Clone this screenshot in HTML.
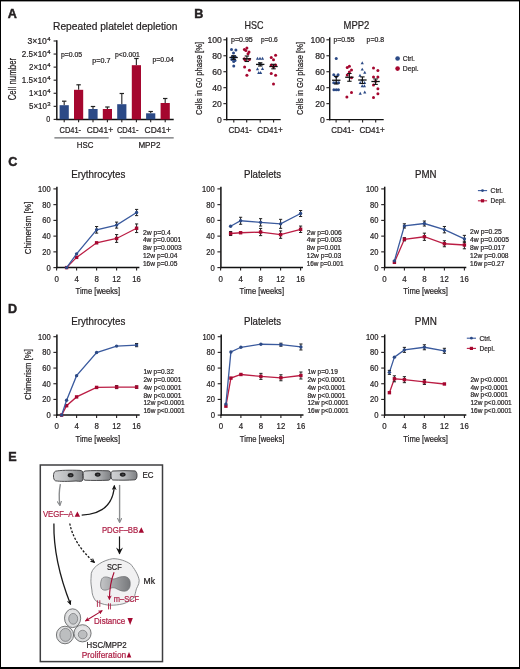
<!DOCTYPE html>
<html><head><meta charset="utf-8"><style>
html,body{margin:0;padding:0;background:#fff;}
#fig{position:relative;width:518px;height:666px;border:1px solid #000;border-bottom-width:2px;overflow:hidden;}
svg{position:absolute;left:-1px;top:-1px;}
text{font-family:"Liberation Sans", sans-serif;}
svg text{stroke-width:0.22;}
svg text[font-weight=bold]{stroke-width:0.45;}
svg{filter:blur(0.35px);}
</style></head><body>
<div id="fig"><svg width="520" height="669" viewBox="0 0 520 669" font-family='"Liberation Sans", sans-serif'>
<rect x="0" y="1" width="520" height="1" fill="#9a9a9a"/>
<text x="7.80" y="17.70" font-size="12.6" font-weight="bold" fill="#231f20" stroke="#231f20">A</text>
<text x="194.30" y="17.80" font-size="12.6" font-weight="bold" fill="#231f20" stroke="#231f20">B</text>
<text x="8.20" y="166.00" font-size="12.6" font-weight="bold" fill="#231f20" stroke="#231f20">C</text>
<text x="8.10" y="313.00" font-size="12.6" font-weight="bold" fill="#231f20" stroke="#231f20">D</text>
<text x="8.30" y="460.80" font-size="12.6" font-weight="bold" fill="#231f20" stroke="#231f20">E</text>
<text x="53.00" y="29.90" font-size="10.6" textLength="124.5" lengthAdjust="spacingAndGlyphs" fill="#231f20" stroke="#231f20">Repeated platelet depletion</text>
<line x1="56.80" y1="40.20" x2="56.80" y2="120.10" stroke="#111" stroke-width="1.45"/>
<line x1="56.10" y1="119.40" x2="173.70" y2="119.40" stroke="#111" stroke-width="1.45"/>
<line x1="53.60" y1="119.40" x2="56.80" y2="119.40" stroke="#231f20" stroke-width="1.1"/>
<text x="50.20" y="122.40" font-size="8.6" text-anchor="end" textLength="4.0" lengthAdjust="spacingAndGlyphs" fill="#231f20" stroke="#231f20">0</text>
<line x1="53.60" y1="106.33" x2="56.80" y2="106.33" stroke="#231f20" stroke-width="1.1"/>
<text x="46.80" y="109.33" font-size="8.6" text-anchor="end" textLength="17.8" lengthAdjust="spacingAndGlyphs" fill="#231f20" stroke="#231f20">5×10</text>
<text x="47.20" y="106.03" font-size="5.6" textLength="3.3" lengthAdjust="spacingAndGlyphs" fill="#231f20" stroke="#231f20">3</text>
<line x1="53.60" y1="93.26" x2="56.80" y2="93.26" stroke="#231f20" stroke-width="1.1"/>
<text x="46.80" y="96.26" font-size="8.6" text-anchor="end" textLength="17.8" lengthAdjust="spacingAndGlyphs" fill="#231f20" stroke="#231f20">1×10</text>
<text x="47.20" y="92.96" font-size="5.6" textLength="3.3" lengthAdjust="spacingAndGlyphs" fill="#231f20" stroke="#231f20">4</text>
<line x1="53.60" y1="80.19" x2="56.80" y2="80.19" stroke="#231f20" stroke-width="1.1"/>
<text x="46.80" y="83.19" font-size="8.6" text-anchor="end" textLength="25.0" lengthAdjust="spacingAndGlyphs" fill="#231f20" stroke="#231f20">1.5×10</text>
<text x="47.20" y="79.89" font-size="5.6" textLength="3.3" lengthAdjust="spacingAndGlyphs" fill="#231f20" stroke="#231f20">4</text>
<line x1="53.60" y1="67.12" x2="56.80" y2="67.12" stroke="#231f20" stroke-width="1.1"/>
<text x="46.80" y="70.12" font-size="8.6" text-anchor="end" textLength="17.8" lengthAdjust="spacingAndGlyphs" fill="#231f20" stroke="#231f20">2×10</text>
<text x="47.20" y="66.82" font-size="5.6" textLength="3.3" lengthAdjust="spacingAndGlyphs" fill="#231f20" stroke="#231f20">4</text>
<line x1="53.60" y1="54.05" x2="56.80" y2="54.05" stroke="#231f20" stroke-width="1.1"/>
<text x="46.80" y="57.05" font-size="8.6" text-anchor="end" textLength="25.0" lengthAdjust="spacingAndGlyphs" fill="#231f20" stroke="#231f20">2.5×10</text>
<text x="47.20" y="53.75" font-size="5.6" textLength="3.3" lengthAdjust="spacingAndGlyphs" fill="#231f20" stroke="#231f20">4</text>
<line x1="53.60" y1="40.98" x2="56.80" y2="40.98" stroke="#231f20" stroke-width="1.1"/>
<text x="46.80" y="43.98" font-size="8.6" text-anchor="end" textLength="19.4" lengthAdjust="spacingAndGlyphs" fill="#231f20" stroke="#231f20">3×10</text>
<text x="47.20" y="40.68" font-size="5.6" textLength="3.3" lengthAdjust="spacingAndGlyphs" fill="#231f20" stroke="#231f20">4</text>
<text x="0.00" y="0.00" font-size="10.9" text-anchor="middle" textLength="42.5" lengthAdjust="spacingAndGlyphs" fill="#231f20" stroke="#231f20" transform="translate(16.0,79.1) rotate(-90)">Cell number</text>
<line x1="64.20" y1="101.20" x2="64.20" y2="105.20" stroke="#333" stroke-width="1.2"/>
<line x1="62.00" y1="101.20" x2="66.40" y2="101.20" stroke="#222" stroke-width="1.2"/>
<rect x="59.60" y="105.20" width="9.20" height="14.20" fill="#2c4a86"/>
<line x1="64.20" y1="119.40" x2="64.20" y2="122.20" stroke="#231f20" stroke-width="1.1"/>
<line x1="78.60" y1="84.80" x2="78.60" y2="89.80" stroke="#333" stroke-width="1.2"/>
<line x1="76.40" y1="84.80" x2="80.80" y2="84.80" stroke="#222" stroke-width="1.2"/>
<rect x="74.00" y="89.80" width="9.20" height="29.60" fill="#a5072f"/>
<line x1="78.60" y1="119.40" x2="78.60" y2="122.20" stroke="#231f20" stroke-width="1.1"/>
<line x1="93.00" y1="106.50" x2="93.00" y2="109.00" stroke="#333" stroke-width="1.2"/>
<line x1="90.80" y1="106.50" x2="95.20" y2="106.50" stroke="#222" stroke-width="1.2"/>
<rect x="88.40" y="109.00" width="9.20" height="10.40" fill="#2c4a86"/>
<line x1="93.00" y1="119.40" x2="93.00" y2="122.20" stroke="#231f20" stroke-width="1.1"/>
<line x1="107.40" y1="107.00" x2="107.40" y2="109.00" stroke="#333" stroke-width="1.2"/>
<line x1="105.20" y1="107.00" x2="109.60" y2="107.00" stroke="#222" stroke-width="1.2"/>
<rect x="102.80" y="109.00" width="9.20" height="10.40" fill="#a5072f"/>
<line x1="107.40" y1="119.40" x2="107.40" y2="122.20" stroke="#231f20" stroke-width="1.1"/>
<line x1="121.80" y1="93.50" x2="121.80" y2="104.20" stroke="#333" stroke-width="1.2"/>
<line x1="119.60" y1="93.50" x2="124.00" y2="93.50" stroke="#222" stroke-width="1.2"/>
<rect x="117.20" y="104.20" width="9.20" height="15.20" fill="#2c4a86"/>
<line x1="121.80" y1="119.40" x2="121.80" y2="122.20" stroke="#231f20" stroke-width="1.1"/>
<line x1="136.40" y1="58.50" x2="136.40" y2="65.20" stroke="#333" stroke-width="1.2"/>
<line x1="134.20" y1="58.50" x2="138.60" y2="58.50" stroke="#222" stroke-width="1.2"/>
<rect x="131.80" y="65.20" width="9.20" height="54.20" fill="#a5072f"/>
<line x1="136.40" y1="119.40" x2="136.40" y2="122.20" stroke="#231f20" stroke-width="1.1"/>
<line x1="150.70" y1="111.50" x2="150.70" y2="113.30" stroke="#333" stroke-width="1.2"/>
<line x1="148.50" y1="111.50" x2="152.90" y2="111.50" stroke="#222" stroke-width="1.2"/>
<rect x="146.10" y="113.30" width="9.20" height="6.10" fill="#2c4a86"/>
<line x1="150.70" y1="119.40" x2="150.70" y2="122.20" stroke="#231f20" stroke-width="1.1"/>
<line x1="165.20" y1="98.50" x2="165.20" y2="103.00" stroke="#333" stroke-width="1.2"/>
<line x1="163.00" y1="98.50" x2="167.40" y2="98.50" stroke="#222" stroke-width="1.2"/>
<rect x="160.60" y="103.00" width="9.20" height="16.40" fill="#a5072f"/>
<line x1="165.20" y1="119.40" x2="165.20" y2="122.20" stroke="#231f20" stroke-width="1.1"/>
<text x="59.50" y="133.00" font-size="8.6" textLength="21.6" lengthAdjust="spacingAndGlyphs" fill="#231f20" stroke="#231f20">CD41-</text>
<text x="86.70" y="133.00" font-size="8.6" textLength="26.4" lengthAdjust="spacingAndGlyphs" fill="#231f20" stroke="#231f20">CD41+</text>
<text x="116.90" y="133.00" font-size="8.6" textLength="21.6" lengthAdjust="spacingAndGlyphs" fill="#231f20" stroke="#231f20">CD41-</text>
<text x="144.60" y="133.00" font-size="8.6" textLength="26.4" lengthAdjust="spacingAndGlyphs" fill="#231f20" stroke="#231f20">CD41+</text>
<line x1="54.40" y1="137.90" x2="108.70" y2="137.90" stroke="#6d6e71" stroke-width="1.3"/>
<line x1="119.80" y1="137.90" x2="173.70" y2="137.90" stroke="#6d6e71" stroke-width="1.3"/>
<text x="76.80" y="147.60" font-size="8.6" textLength="16.6" lengthAdjust="spacingAndGlyphs" fill="#231f20" stroke="#231f20">HSC</text>
<text x="138.40" y="147.60" font-size="8.6" textLength="22.0" lengthAdjust="spacingAndGlyphs" fill="#231f20" stroke="#231f20">MPP2</text>
<text x="60.90" y="56.90" font-size="7.2" textLength="21.3" lengthAdjust="spacingAndGlyphs" fill="#231f20" stroke="#231f20">p=0.05</text>
<text x="92.30" y="62.70" font-size="7.2" textLength="18.1" lengthAdjust="spacingAndGlyphs" fill="#231f20" stroke="#231f20">p=0.7</text>
<text x="115.00" y="56.90" font-size="7.2" textLength="24.8" lengthAdjust="spacingAndGlyphs" fill="#231f20" stroke="#231f20">p&lt;0.001</text>
<text x="152.50" y="62.40" font-size="7.2" textLength="21.3" lengthAdjust="spacingAndGlyphs" fill="#231f20" stroke="#231f20">p=0.04</text>
<text x="244.60" y="29.00" font-size="10.5" textLength="19" lengthAdjust="spacingAndGlyphs" fill="#231f20" stroke="#231f20">HSC</text>
<line x1="226.70" y1="37.40" x2="226.70" y2="120.30" stroke="#111" stroke-width="1.45"/>
<line x1="226.00" y1="119.60" x2="280.70" y2="119.60" stroke="#111" stroke-width="1.45"/>
<line x1="223.40" y1="119.60" x2="226.70" y2="119.60" stroke="#231f20" stroke-width="1.1"/>
<text x="221.80" y="122.60" font-size="8.6" text-anchor="end" fill="#231f20" stroke="#231f20">0</text>
<line x1="223.40" y1="103.64" x2="226.70" y2="103.64" stroke="#231f20" stroke-width="1.1"/>
<text x="221.80" y="106.64" font-size="8.6" text-anchor="end" fill="#231f20" stroke="#231f20">20</text>
<line x1="223.40" y1="87.68" x2="226.70" y2="87.68" stroke="#231f20" stroke-width="1.1"/>
<text x="221.80" y="90.68" font-size="8.6" text-anchor="end" fill="#231f20" stroke="#231f20">40</text>
<line x1="223.40" y1="71.72" x2="226.70" y2="71.72" stroke="#231f20" stroke-width="1.1"/>
<text x="221.80" y="74.72" font-size="8.6" text-anchor="end" fill="#231f20" stroke="#231f20">60</text>
<line x1="223.40" y1="55.76" x2="226.70" y2="55.76" stroke="#231f20" stroke-width="1.1"/>
<text x="221.80" y="58.76" font-size="8.6" text-anchor="end" fill="#231f20" stroke="#231f20">80</text>
<line x1="223.40" y1="39.80" x2="226.70" y2="39.80" stroke="#231f20" stroke-width="1.1"/>
<text x="221.80" y="42.80" font-size="8.6" text-anchor="end" fill="#231f20" stroke="#231f20">100</text>
<line x1="233.80" y1="119.60" x2="233.80" y2="122.60" stroke="#231f20" stroke-width="1.1"/>
<line x1="246.70" y1="119.60" x2="246.70" y2="122.60" stroke="#231f20" stroke-width="1.1"/>
<line x1="260.20" y1="119.60" x2="260.20" y2="122.60" stroke="#231f20" stroke-width="1.1"/>
<line x1="273.60" y1="119.60" x2="273.60" y2="122.60" stroke="#231f20" stroke-width="1.1"/>
<text x="228.50" y="133.40" font-size="8.5" textLength="23.3" lengthAdjust="spacingAndGlyphs" fill="#231f20" stroke="#231f20">CD41-</text>
<text x="257.30" y="133.40" font-size="8.5" textLength="25.4" lengthAdjust="spacingAndGlyphs" fill="#231f20" stroke="#231f20">CD41+</text>
<text x="0.00" y="0.00" font-size="8.6" text-anchor="middle" textLength="73" lengthAdjust="spacingAndGlyphs" fill="#231f20" stroke="#231f20" transform="translate(201.5,78.5) rotate(-90)">Cells in G0 phase [%]</text>
<text x="231.00" y="42.00" font-size="7" textLength="21.8" lengthAdjust="spacingAndGlyphs" fill="#231f20" stroke="#231f20">p=0.95</text>
<text x="261.00" y="42.00" font-size="7" textLength="16.8" lengthAdjust="spacingAndGlyphs" fill="#231f20" stroke="#231f20">p=0.6</text>
<circle cx="231.50" cy="49.40" r="1.5" fill="#2c4a86"/>
<circle cx="235.90" cy="50.00" r="1.5" fill="#2c4a86"/>
<circle cx="233.50" cy="53.10" r="1.5" fill="#2c4a86"/>
<circle cx="232.30" cy="56.50" r="1.5" fill="#2c4a86"/>
<circle cx="235.20" cy="56.80" r="1.5" fill="#2c4a86"/>
<circle cx="233.70" cy="58.30" r="1.5" fill="#2c4a86"/>
<circle cx="231.80" cy="59.60" r="1.5" fill="#2c4a86"/>
<circle cx="235.00" cy="60.60" r="1.5" fill="#2c4a86"/>
<circle cx="233.70" cy="61.50" r="1.5" fill="#2c4a86"/>
<circle cx="233.75" cy="66.00" r="1.5" fill="#2c4a86"/>
<line x1="229.40" y1="57.50" x2="237.80" y2="57.50" stroke="#111" stroke-width="1.3"/>
<line x1="233.60" y1="55.80" x2="233.60" y2="59.40" stroke="#111" stroke-width="1.1"/>
<line x1="231.40" y1="55.80" x2="235.80" y2="55.80" stroke="#111" stroke-width="1.1"/>
<line x1="231.40" y1="59.40" x2="235.80" y2="59.40" stroke="#111" stroke-width="1.1"/>
<circle cx="244.40" cy="49.60" r="1.5" fill="#a5072f"/>
<circle cx="246.90" cy="48.10" r="1.5" fill="#a5072f"/>
<circle cx="245.80" cy="50.60" r="1.5" fill="#a5072f"/>
<circle cx="249.00" cy="51.90" r="1.5" fill="#a5072f"/>
<circle cx="248.00" cy="53.75" r="1.5" fill="#a5072f"/>
<circle cx="244.40" cy="58.80" r="1.5" fill="#a5072f"/>
<circle cx="249.40" cy="59.40" r="1.5" fill="#a5072f"/>
<circle cx="245.10" cy="60.00" r="1.5" fill="#a5072f"/>
<circle cx="244.60" cy="66.90" r="1.5" fill="#a5072f"/>
<circle cx="249.40" cy="70.25" r="1.5" fill="#a5072f"/>
<circle cx="246.90" cy="75.25" r="1.5" fill="#a5072f"/>
<line x1="242.70" y1="58.75" x2="251.10" y2="58.75" stroke="#111" stroke-width="1.3"/>
<line x1="246.90" y1="56.00" x2="246.90" y2="61.50" stroke="#111" stroke-width="1.1"/>
<line x1="244.70" y1="56.00" x2="249.10" y2="56.00" stroke="#111" stroke-width="1.1"/>
<line x1="244.70" y1="61.50" x2="249.10" y2="61.50" stroke="#111" stroke-width="1.1"/>
<path d="M257.50,56.77 L259.10,59.65 L255.90,59.65 Z" fill="#2c4a86"/>
<path d="M260.00,56.77 L261.60,59.65 L258.40,59.65 Z" fill="#2c4a86"/>
<path d="M262.50,56.77 L264.10,59.65 L260.90,59.65 Z" fill="#2c4a86"/>
<path d="M259.40,62.07 L261.00,64.95 L257.80,64.95 Z" fill="#2c4a86"/>
<path d="M261.20,62.67 L262.80,65.55 L259.60,65.55 Z" fill="#2c4a86"/>
<path d="M257.50,67.27 L259.10,70.15 L255.90,70.15 Z" fill="#2c4a86"/>
<path d="M262.50,67.07 L264.10,69.95 L260.90,69.95 Z" fill="#2c4a86"/>
<path d="M258.75,71.02 L260.35,73.90 L257.15,73.90 Z" fill="#2c4a86"/>
<path d="M260.60,71.02 L262.20,73.90 L259.00,73.90 Z" fill="#2c4a86"/>
<line x1="256.00" y1="64.40" x2="264.40" y2="64.40" stroke="#111" stroke-width="1.3"/>
<line x1="260.20" y1="62.80" x2="260.20" y2="66.00" stroke="#111" stroke-width="1.1"/>
<line x1="258.00" y1="62.80" x2="262.40" y2="62.80" stroke="#111" stroke-width="1.1"/>
<line x1="258.00" y1="66.00" x2="262.40" y2="66.00" stroke="#111" stroke-width="1.1"/>
<circle cx="271.25" cy="57.50" r="1.5" fill="#a5072f"/>
<circle cx="275.60" cy="55.25" r="1.5" fill="#a5072f"/>
<circle cx="273.50" cy="59.75" r="1.5" fill="#a5072f"/>
<circle cx="271.25" cy="65.00" r="1.5" fill="#a5072f"/>
<circle cx="275.60" cy="65.00" r="1.5" fill="#a5072f"/>
<circle cx="273.50" cy="66.70" r="1.5" fill="#a5072f"/>
<circle cx="271.25" cy="73.50" r="1.5" fill="#a5072f"/>
<circle cx="275.60" cy="75.25" r="1.5" fill="#a5072f"/>
<circle cx="273.50" cy="84.00" r="1.5" fill="#a5072f"/>
<line x1="269.30" y1="66.50" x2="277.70" y2="66.50" stroke="#111" stroke-width="1.3"/>
<line x1="273.50" y1="64.30" x2="273.50" y2="68.80" stroke="#111" stroke-width="1.1"/>
<line x1="271.30" y1="64.30" x2="275.70" y2="64.30" stroke="#111" stroke-width="1.1"/>
<line x1="271.30" y1="68.80" x2="275.70" y2="68.80" stroke="#111" stroke-width="1.1"/>
<text x="343.50" y="29.00" font-size="10.5" textLength="25.8" lengthAdjust="spacingAndGlyphs" fill="#231f20" stroke="#231f20">MPP2</text>
<line x1="329.70" y1="37.40" x2="329.70" y2="120.30" stroke="#111" stroke-width="1.45"/>
<line x1="329.00" y1="119.60" x2="383.70" y2="119.60" stroke="#111" stroke-width="1.45"/>
<line x1="326.40" y1="119.60" x2="329.70" y2="119.60" stroke="#231f20" stroke-width="1.1"/>
<text x="324.80" y="122.60" font-size="8.6" text-anchor="end" fill="#231f20" stroke="#231f20">0</text>
<line x1="326.40" y1="103.64" x2="329.70" y2="103.64" stroke="#231f20" stroke-width="1.1"/>
<text x="324.80" y="106.64" font-size="8.6" text-anchor="end" fill="#231f20" stroke="#231f20">20</text>
<line x1="326.40" y1="87.68" x2="329.70" y2="87.68" stroke="#231f20" stroke-width="1.1"/>
<text x="324.80" y="90.68" font-size="8.6" text-anchor="end" fill="#231f20" stroke="#231f20">40</text>
<line x1="326.40" y1="71.72" x2="329.70" y2="71.72" stroke="#231f20" stroke-width="1.1"/>
<text x="324.80" y="74.72" font-size="8.6" text-anchor="end" fill="#231f20" stroke="#231f20">60</text>
<line x1="326.40" y1="55.76" x2="329.70" y2="55.76" stroke="#231f20" stroke-width="1.1"/>
<text x="324.80" y="58.76" font-size="8.6" text-anchor="end" fill="#231f20" stroke="#231f20">80</text>
<line x1="326.40" y1="39.80" x2="329.70" y2="39.80" stroke="#231f20" stroke-width="1.1"/>
<text x="324.80" y="42.80" font-size="8.6" text-anchor="end" fill="#231f20" stroke="#231f20">100</text>
<line x1="336.10" y1="119.60" x2="336.10" y2="122.60" stroke="#231f20" stroke-width="1.1"/>
<line x1="349.20" y1="119.60" x2="349.20" y2="122.60" stroke="#231f20" stroke-width="1.1"/>
<line x1="362.60" y1="119.60" x2="362.60" y2="122.60" stroke="#231f20" stroke-width="1.1"/>
<line x1="375.70" y1="119.60" x2="375.70" y2="122.60" stroke="#231f20" stroke-width="1.1"/>
<text x="331.30" y="133.40" font-size="8.5" textLength="22.8" lengthAdjust="spacingAndGlyphs" fill="#231f20" stroke="#231f20">CD41-</text>
<text x="359.40" y="133.40" font-size="8.5" textLength="25.4" lengthAdjust="spacingAndGlyphs" fill="#231f20" stroke="#231f20">CD41+</text>
<text x="0.00" y="0.00" font-size="8.6" text-anchor="middle" textLength="73" lengthAdjust="spacingAndGlyphs" fill="#231f20" stroke="#231f20" transform="translate(303.1,78.5) rotate(-90)">Cells in G0 phase [%]</text>
<text x="333.40" y="42.00" font-size="7" textLength="21.1" lengthAdjust="spacingAndGlyphs" fill="#231f20" stroke="#231f20">p=0.55</text>
<text x="366.60" y="42.00" font-size="7" textLength="17.5" lengthAdjust="spacingAndGlyphs" fill="#231f20" stroke="#231f20">p=0.8</text>
<circle cx="336.25" cy="58.40" r="1.5" fill="#2c4a86"/>
<circle cx="333.75" cy="74.75" r="1.5" fill="#2c4a86"/>
<circle cx="338.10" cy="74.75" r="1.5" fill="#2c4a86"/>
<circle cx="336.20" cy="76.80" r="1.5" fill="#2c4a86"/>
<circle cx="333.75" cy="82.75" r="1.5" fill="#2c4a86"/>
<circle cx="336.25" cy="82.75" r="1.5" fill="#2c4a86"/>
<circle cx="338.60" cy="82.75" r="1.5" fill="#2c4a86"/>
<circle cx="333.90" cy="89.75" r="1.5" fill="#2c4a86"/>
<circle cx="336.25" cy="89.75" r="1.5" fill="#2c4a86"/>
<circle cx="338.40" cy="89.75" r="1.5" fill="#2c4a86"/>
<line x1="332.05" y1="80.25" x2="340.45" y2="80.25" stroke="#111" stroke-width="1.3"/>
<line x1="336.25" y1="76.50" x2="336.25" y2="84.00" stroke="#111" stroke-width="1.1"/>
<line x1="334.05" y1="76.50" x2="338.45" y2="76.50" stroke="#111" stroke-width="1.1"/>
<line x1="334.05" y1="84.00" x2="338.45" y2="84.00" stroke="#111" stroke-width="1.1"/>
<circle cx="347.25" cy="67.50" r="1.5" fill="#a5072f"/>
<circle cx="349.40" cy="66.25" r="1.5" fill="#a5072f"/>
<circle cx="351.50" cy="70.00" r="1.5" fill="#a5072f"/>
<circle cx="349.40" cy="71.90" r="1.5" fill="#a5072f"/>
<circle cx="347.25" cy="75.00" r="1.5" fill="#a5072f"/>
<circle cx="351.50" cy="77.75" r="1.5" fill="#a5072f"/>
<circle cx="351.50" cy="92.50" r="1.5" fill="#a5072f"/>
<circle cx="346.90" cy="96.90" r="1.5" fill="#a5072f"/>
<line x1="345.20" y1="77.25" x2="353.60" y2="77.25" stroke="#111" stroke-width="1.3"/>
<line x1="349.40" y1="73.50" x2="349.40" y2="81.25" stroke="#111" stroke-width="1.1"/>
<line x1="347.20" y1="73.50" x2="351.60" y2="73.50" stroke="#111" stroke-width="1.1"/>
<line x1="347.20" y1="81.25" x2="351.60" y2="81.25" stroke="#111" stroke-width="1.1"/>
<path d="M362.25,61.37 L363.85,64.25 L360.65,64.25 Z" fill="#2c4a86"/>
<path d="M362.25,67.67 L363.85,70.55 L360.65,70.55 Z" fill="#2c4a86"/>
<path d="M364.75,70.77 L366.35,73.65 L363.15,73.65 Z" fill="#2c4a86"/>
<path d="M360.00,73.87 L361.60,76.75 L358.40,76.75 Z" fill="#2c4a86"/>
<path d="M362.25,78.27 L363.85,81.15 L360.65,81.15 Z" fill="#2c4a86"/>
<path d="M360.25,81.02 L361.85,83.90 L358.65,83.90 Z" fill="#2c4a86"/>
<path d="M364.60,81.02 L366.20,83.90 L363.00,83.90 Z" fill="#2c4a86"/>
<path d="M362.20,84.27 L363.80,87.15 L360.60,87.15 Z" fill="#2c4a86"/>
<path d="M364.40,84.27 L366.00,87.15 L362.80,87.15 Z" fill="#2c4a86"/>
<path d="M360.25,91.77 L361.85,94.65 L358.65,94.65 Z" fill="#2c4a86"/>
<path d="M364.75,90.52 L366.35,93.40 L363.15,93.40 Z" fill="#2c4a86"/>
<line x1="358.20" y1="80.00" x2="366.60" y2="80.00" stroke="#111" stroke-width="1.3"/>
<line x1="362.40" y1="76.90" x2="362.40" y2="83.50" stroke="#111" stroke-width="1.1"/>
<line x1="360.20" y1="76.90" x2="364.60" y2="76.90" stroke="#111" stroke-width="1.1"/>
<line x1="360.20" y1="83.50" x2="364.60" y2="83.50" stroke="#111" stroke-width="1.1"/>
<circle cx="373.50" cy="68.10" r="1.5" fill="#a5072f"/>
<circle cx="377.90" cy="70.60" r="1.5" fill="#a5072f"/>
<circle cx="373.50" cy="77.00" r="1.5" fill="#a5072f"/>
<circle cx="377.90" cy="77.00" r="1.5" fill="#a5072f"/>
<circle cx="375.60" cy="81.20" r="1.5" fill="#a5072f"/>
<circle cx="373.50" cy="85.00" r="1.5" fill="#a5072f"/>
<circle cx="377.90" cy="88.75" r="1.5" fill="#a5072f"/>
<circle cx="377.90" cy="93.75" r="1.5" fill="#a5072f"/>
<circle cx="373.50" cy="97.50" r="1.5" fill="#a5072f"/>
<line x1="371.40" y1="81.50" x2="379.80" y2="81.50" stroke="#111" stroke-width="1.3"/>
<line x1="375.60" y1="79.00" x2="375.60" y2="84.40" stroke="#111" stroke-width="1.1"/>
<line x1="373.40" y1="79.00" x2="377.80" y2="79.00" stroke="#111" stroke-width="1.1"/>
<line x1="373.40" y1="84.40" x2="377.80" y2="84.40" stroke="#111" stroke-width="1.1"/>
<circle cx="397.60" cy="58.50" r="2.3" fill="#2c4a86"/>
<circle cx="397.60" cy="68.60" r="2.3" fill="#a5072f"/>
<text x="402.80" y="60.90" font-size="7.2" textLength="12" lengthAdjust="spacingAndGlyphs" fill="#231f20" stroke="#231f20">Ctrl.</text>
<text x="402.80" y="71.00" font-size="7.2" textLength="15.9" lengthAdjust="spacingAndGlyphs" fill="#231f20" stroke="#231f20">Depl.</text>
<text x="71.20" y="177.60" font-size="10.3" textLength="54.2" lengthAdjust="spacingAndGlyphs" fill="#231f20" stroke="#231f20">Erythrocytes</text>
<line x1="56.90" y1="186.70" x2="56.90" y2="268.30" stroke="#111" stroke-width="1.5"/>
<line x1="56.20" y1="267.60" x2="139.40" y2="267.60" stroke="#111" stroke-width="1.5"/>
<line x1="53.40" y1="267.60" x2="56.90" y2="267.60" stroke="#231f20" stroke-width="1.1"/>
<text x="50.70" y="270.65" font-size="8.5" text-anchor="end" textLength="4.3" lengthAdjust="spacingAndGlyphs" fill="#231f20" stroke="#231f20">0</text>
<line x1="53.40" y1="251.86" x2="56.90" y2="251.86" stroke="#231f20" stroke-width="1.1"/>
<text x="50.70" y="254.91" font-size="8.5" text-anchor="end" textLength="8.4" lengthAdjust="spacingAndGlyphs" fill="#231f20" stroke="#231f20">20</text>
<line x1="53.40" y1="236.12" x2="56.90" y2="236.12" stroke="#231f20" stroke-width="1.1"/>
<text x="50.70" y="239.17" font-size="8.5" text-anchor="end" textLength="8.4" lengthAdjust="spacingAndGlyphs" fill="#231f20" stroke="#231f20">40</text>
<line x1="53.40" y1="220.38" x2="56.90" y2="220.38" stroke="#231f20" stroke-width="1.1"/>
<text x="50.70" y="223.43" font-size="8.5" text-anchor="end" textLength="8.4" lengthAdjust="spacingAndGlyphs" fill="#231f20" stroke="#231f20">60</text>
<line x1="53.40" y1="204.64" x2="56.90" y2="204.64" stroke="#231f20" stroke-width="1.1"/>
<text x="50.70" y="207.69" font-size="8.5" text-anchor="end" textLength="8.4" lengthAdjust="spacingAndGlyphs" fill="#231f20" stroke="#231f20">80</text>
<line x1="53.40" y1="188.90" x2="56.90" y2="188.90" stroke="#231f20" stroke-width="1.1"/>
<text x="50.70" y="191.95" font-size="8.5" text-anchor="end" textLength="12.6" lengthAdjust="spacingAndGlyphs" fill="#231f20" stroke="#231f20">100</text>
<line x1="56.60" y1="267.60" x2="56.60" y2="270.60" stroke="#231f20" stroke-width="1.1"/>
<text x="56.60" y="281.50" font-size="8.8" text-anchor="middle" textLength="4.4" lengthAdjust="spacingAndGlyphs" fill="#231f20" stroke="#231f20">0</text>
<line x1="76.60" y1="267.60" x2="76.60" y2="270.60" stroke="#231f20" stroke-width="1.1"/>
<text x="76.60" y="281.50" font-size="8.8" text-anchor="middle" textLength="4.4" lengthAdjust="spacingAndGlyphs" fill="#231f20" stroke="#231f20">4</text>
<line x1="96.60" y1="267.60" x2="96.60" y2="270.60" stroke="#231f20" stroke-width="1.1"/>
<text x="96.60" y="281.50" font-size="8.8" text-anchor="middle" textLength="4.4" lengthAdjust="spacingAndGlyphs" fill="#231f20" stroke="#231f20">8</text>
<line x1="116.60" y1="267.60" x2="116.60" y2="270.60" stroke="#231f20" stroke-width="1.1"/>
<text x="116.60" y="281.50" font-size="8.8" text-anchor="middle" textLength="8.6" lengthAdjust="spacingAndGlyphs" fill="#231f20" stroke="#231f20">12</text>
<line x1="136.60" y1="267.60" x2="136.60" y2="270.60" stroke="#231f20" stroke-width="1.1"/>
<text x="136.60" y="281.50" font-size="8.8" text-anchor="middle" textLength="8.6" lengthAdjust="spacingAndGlyphs" fill="#231f20" stroke="#231f20">16</text>
<text x="97.80" y="294.30" font-size="8.8" text-anchor="middle" textLength="44.5" lengthAdjust="spacingAndGlyphs" fill="#231f20" stroke="#231f20">Time [weeks]</text>
<text x="0.00" y="0.00" font-size="9.0" text-anchor="middle" textLength="52.5" lengthAdjust="spacingAndGlyphs" fill="#231f20" stroke="#231f20" transform="translate(31.3,228.0) rotate(-90)">Chimerism [%]</text>
<path d="M66.60,267.60 L76.60,257.37 L96.60,242.81 L116.60,238.48 L136.60,228.25" fill="none" stroke="#bb1d44" stroke-width="1.3"/>
<line x1="116.60" y1="234.58" x2="116.60" y2="242.38" stroke="#222" stroke-width="1.0"/>
<line x1="115.00" y1="234.58" x2="118.20" y2="234.58" stroke="#222" stroke-width="1.0"/>
<line x1="115.00" y1="242.38" x2="118.20" y2="242.38" stroke="#222" stroke-width="1.0"/>
<line x1="136.60" y1="223.95" x2="136.60" y2="232.55" stroke="#222" stroke-width="1.0"/>
<line x1="135.00" y1="223.95" x2="138.20" y2="223.95" stroke="#222" stroke-width="1.0"/>
<line x1="135.00" y1="232.55" x2="138.20" y2="232.55" stroke="#222" stroke-width="1.0"/>
<rect x="64.90" y="265.90" width="3.40" height="3.40" fill="#a5072f"/>
<rect x="74.90" y="255.67" width="3.40" height="3.40" fill="#a5072f"/>
<rect x="94.90" y="241.11" width="3.40" height="3.40" fill="#a5072f"/>
<rect x="114.90" y="236.78" width="3.40" height="3.40" fill="#a5072f"/>
<rect x="134.90" y="226.55" width="3.40" height="3.40" fill="#a5072f"/>
<path d="M66.60,267.60 L76.60,253.83 L96.60,229.82 L116.60,225.10 L136.60,212.51" fill="none" stroke="#3a5a9e" stroke-width="1.3"/>
<line x1="96.60" y1="226.52" x2="96.60" y2="233.12" stroke="#222" stroke-width="1.0"/>
<line x1="95.00" y1="226.52" x2="98.20" y2="226.52" stroke="#222" stroke-width="1.0"/>
<line x1="95.00" y1="233.12" x2="98.20" y2="233.12" stroke="#222" stroke-width="1.0"/>
<line x1="116.60" y1="222.10" x2="116.60" y2="228.10" stroke="#222" stroke-width="1.0"/>
<line x1="115.00" y1="222.10" x2="118.20" y2="222.10" stroke="#222" stroke-width="1.0"/>
<line x1="115.00" y1="228.10" x2="118.20" y2="228.10" stroke="#222" stroke-width="1.0"/>
<line x1="136.60" y1="209.41" x2="136.60" y2="215.61" stroke="#222" stroke-width="1.0"/>
<line x1="135.00" y1="209.41" x2="138.20" y2="209.41" stroke="#222" stroke-width="1.0"/>
<line x1="135.00" y1="215.61" x2="138.20" y2="215.61" stroke="#222" stroke-width="1.0"/>
<circle cx="66.60" cy="267.60" r="1.7" fill="#2c4a86"/>
<circle cx="76.60" cy="253.83" r="1.7" fill="#2c4a86"/>
<circle cx="96.60" cy="229.82" r="1.7" fill="#2c4a86"/>
<circle cx="116.60" cy="225.10" r="1.7" fill="#2c4a86"/>
<circle cx="136.60" cy="212.51" r="1.7" fill="#2c4a86"/>
<text x="142.90" y="234.50" font-size="7.4" textLength="27.9" lengthAdjust="spacingAndGlyphs" fill="#231f20" stroke="#231f20">2w p=0.4</text>
<text x="142.90" y="242.30" font-size="7.4" textLength="38.4" lengthAdjust="spacingAndGlyphs" fill="#231f20" stroke="#231f20">4w p=0.0001</text>
<text x="142.90" y="250.10" font-size="7.4" textLength="38.9" lengthAdjust="spacingAndGlyphs" fill="#231f20" stroke="#231f20">8w p=0.0003</text>
<text x="142.90" y="257.90" font-size="7.4" textLength="34.6" lengthAdjust="spacingAndGlyphs" fill="#231f20" stroke="#231f20">12w p=0.04</text>
<text x="142.90" y="265.70" font-size="7.4" textLength="34.6" lengthAdjust="spacingAndGlyphs" fill="#231f20" stroke="#231f20">16w p=0.05</text>
<text x="244.00" y="177.60" font-size="10.3" textLength="37" lengthAdjust="spacingAndGlyphs" fill="#231f20" stroke="#231f20">Platelets</text>
<line x1="220.90" y1="186.70" x2="220.90" y2="268.30" stroke="#111" stroke-width="1.5"/>
<line x1="220.20" y1="267.60" x2="303.00" y2="267.60" stroke="#111" stroke-width="1.5"/>
<line x1="217.40" y1="267.60" x2="220.90" y2="267.60" stroke="#231f20" stroke-width="1.1"/>
<text x="214.70" y="270.65" font-size="8.5" text-anchor="end" textLength="4.3" lengthAdjust="spacingAndGlyphs" fill="#231f20" stroke="#231f20">0</text>
<line x1="217.40" y1="251.86" x2="220.90" y2="251.86" stroke="#231f20" stroke-width="1.1"/>
<text x="214.70" y="254.91" font-size="8.5" text-anchor="end" textLength="8.4" lengthAdjust="spacingAndGlyphs" fill="#231f20" stroke="#231f20">20</text>
<line x1="217.40" y1="236.12" x2="220.90" y2="236.12" stroke="#231f20" stroke-width="1.1"/>
<text x="214.70" y="239.17" font-size="8.5" text-anchor="end" textLength="8.4" lengthAdjust="spacingAndGlyphs" fill="#231f20" stroke="#231f20">40</text>
<line x1="217.40" y1="220.38" x2="220.90" y2="220.38" stroke="#231f20" stroke-width="1.1"/>
<text x="214.70" y="223.43" font-size="8.5" text-anchor="end" textLength="8.4" lengthAdjust="spacingAndGlyphs" fill="#231f20" stroke="#231f20">60</text>
<line x1="217.40" y1="204.64" x2="220.90" y2="204.64" stroke="#231f20" stroke-width="1.1"/>
<text x="214.70" y="207.69" font-size="8.5" text-anchor="end" textLength="8.4" lengthAdjust="spacingAndGlyphs" fill="#231f20" stroke="#231f20">80</text>
<line x1="217.40" y1="188.90" x2="220.90" y2="188.90" stroke="#231f20" stroke-width="1.1"/>
<text x="214.70" y="191.95" font-size="8.5" text-anchor="end" textLength="12.6" lengthAdjust="spacingAndGlyphs" fill="#231f20" stroke="#231f20">100</text>
<line x1="220.60" y1="267.60" x2="220.60" y2="270.60" stroke="#231f20" stroke-width="1.1"/>
<text x="220.60" y="281.50" font-size="8.8" text-anchor="middle" textLength="4.4" lengthAdjust="spacingAndGlyphs" fill="#231f20" stroke="#231f20">0</text>
<line x1="240.60" y1="267.60" x2="240.60" y2="270.60" stroke="#231f20" stroke-width="1.1"/>
<text x="240.60" y="281.50" font-size="8.8" text-anchor="middle" textLength="4.4" lengthAdjust="spacingAndGlyphs" fill="#231f20" stroke="#231f20">4</text>
<line x1="260.60" y1="267.60" x2="260.60" y2="270.60" stroke="#231f20" stroke-width="1.1"/>
<text x="260.60" y="281.50" font-size="8.8" text-anchor="middle" textLength="4.4" lengthAdjust="spacingAndGlyphs" fill="#231f20" stroke="#231f20">8</text>
<line x1="280.60" y1="267.60" x2="280.60" y2="270.60" stroke="#231f20" stroke-width="1.1"/>
<text x="280.60" y="281.50" font-size="8.8" text-anchor="middle" textLength="8.6" lengthAdjust="spacingAndGlyphs" fill="#231f20" stroke="#231f20">12</text>
<line x1="300.60" y1="267.60" x2="300.60" y2="270.60" stroke="#231f20" stroke-width="1.1"/>
<text x="300.60" y="281.50" font-size="8.8" text-anchor="middle" textLength="8.6" lengthAdjust="spacingAndGlyphs" fill="#231f20" stroke="#231f20">16</text>
<text x="261.80" y="294.30" font-size="8.8" text-anchor="middle" textLength="44.5" lengthAdjust="spacingAndGlyphs" fill="#231f20" stroke="#231f20">Time [weeks]</text>
<path d="M230.60,233.52 L240.60,232.74 L260.60,232.03 L280.60,234.62 L300.60,229.27" fill="none" stroke="#bb1d44" stroke-width="1.3"/>
<line x1="230.60" y1="231.52" x2="230.60" y2="235.52" stroke="#222" stroke-width="1.0"/>
<line x1="229.00" y1="231.52" x2="232.20" y2="231.52" stroke="#222" stroke-width="1.0"/>
<line x1="229.00" y1="235.52" x2="232.20" y2="235.52" stroke="#222" stroke-width="1.0"/>
<line x1="260.60" y1="228.43" x2="260.60" y2="235.63" stroke="#222" stroke-width="1.0"/>
<line x1="259.00" y1="228.43" x2="262.20" y2="228.43" stroke="#222" stroke-width="1.0"/>
<line x1="259.00" y1="235.63" x2="262.20" y2="235.63" stroke="#222" stroke-width="1.0"/>
<line x1="280.60" y1="230.92" x2="280.60" y2="238.32" stroke="#222" stroke-width="1.0"/>
<line x1="279.00" y1="230.92" x2="282.20" y2="230.92" stroke="#222" stroke-width="1.0"/>
<line x1="279.00" y1="238.32" x2="282.20" y2="238.32" stroke="#222" stroke-width="1.0"/>
<line x1="300.60" y1="226.07" x2="300.60" y2="232.47" stroke="#222" stroke-width="1.0"/>
<line x1="299.00" y1="226.07" x2="302.20" y2="226.07" stroke="#222" stroke-width="1.0"/>
<line x1="299.00" y1="232.47" x2="302.20" y2="232.47" stroke="#222" stroke-width="1.0"/>
<rect x="228.90" y="231.82" width="3.40" height="3.40" fill="#a5072f"/>
<rect x="238.90" y="231.04" width="3.40" height="3.40" fill="#a5072f"/>
<rect x="258.90" y="230.33" width="3.40" height="3.40" fill="#a5072f"/>
<rect x="278.90" y="232.92" width="3.40" height="3.40" fill="#a5072f"/>
<rect x="298.90" y="227.57" width="3.40" height="3.40" fill="#a5072f"/>
<path d="M230.60,226.28 L240.60,220.77 L260.60,222.35 L280.60,223.84 L300.60,213.53" fill="none" stroke="#3a5a9e" stroke-width="1.3"/>
<line x1="240.60" y1="217.27" x2="240.60" y2="224.27" stroke="#222" stroke-width="1.0"/>
<line x1="239.00" y1="217.27" x2="242.20" y2="217.27" stroke="#222" stroke-width="1.0"/>
<line x1="239.00" y1="224.27" x2="242.20" y2="224.27" stroke="#222" stroke-width="1.0"/>
<line x1="260.60" y1="218.65" x2="260.60" y2="226.05" stroke="#222" stroke-width="1.0"/>
<line x1="259.00" y1="218.65" x2="262.20" y2="218.65" stroke="#222" stroke-width="1.0"/>
<line x1="259.00" y1="226.05" x2="262.20" y2="226.05" stroke="#222" stroke-width="1.0"/>
<line x1="280.60" y1="219.34" x2="280.60" y2="228.34" stroke="#222" stroke-width="1.0"/>
<line x1="279.00" y1="219.34" x2="282.20" y2="219.34" stroke="#222" stroke-width="1.0"/>
<line x1="279.00" y1="228.34" x2="282.20" y2="228.34" stroke="#222" stroke-width="1.0"/>
<line x1="300.60" y1="210.53" x2="300.60" y2="216.53" stroke="#222" stroke-width="1.0"/>
<line x1="299.00" y1="210.53" x2="302.20" y2="210.53" stroke="#222" stroke-width="1.0"/>
<line x1="299.00" y1="216.53" x2="302.20" y2="216.53" stroke="#222" stroke-width="1.0"/>
<circle cx="230.60" cy="226.28" r="1.7" fill="#2c4a86"/>
<circle cx="240.60" cy="220.77" r="1.7" fill="#2c4a86"/>
<circle cx="260.60" cy="222.35" r="1.7" fill="#2c4a86"/>
<circle cx="280.60" cy="223.84" r="1.7" fill="#2c4a86"/>
<circle cx="300.60" cy="213.53" r="1.7" fill="#2c4a86"/>
<text x="306.70" y="234.50" font-size="7.4" textLength="35" lengthAdjust="spacingAndGlyphs" fill="#231f20" stroke="#231f20">2w p=0.006</text>
<text x="306.70" y="242.30" font-size="7.4" textLength="35" lengthAdjust="spacingAndGlyphs" fill="#231f20" stroke="#231f20">4w p=0.003</text>
<text x="306.70" y="250.10" font-size="7.4" textLength="34.3" lengthAdjust="spacingAndGlyphs" fill="#231f20" stroke="#231f20">8w p=0.001</text>
<text x="306.70" y="257.90" font-size="7.4" textLength="34.6" lengthAdjust="spacingAndGlyphs" fill="#231f20" stroke="#231f20">12w p=0.03</text>
<text x="306.70" y="265.70" font-size="7.4" textLength="36.8" lengthAdjust="spacingAndGlyphs" fill="#231f20" stroke="#231f20">16w p=0.001</text>
<text x="415.00" y="177.60" font-size="10.3" textLength="21.5" lengthAdjust="spacingAndGlyphs" fill="#231f20" stroke="#231f20">PMN</text>
<line x1="384.70" y1="186.70" x2="384.70" y2="268.30" stroke="#111" stroke-width="1.5"/>
<line x1="384.00" y1="267.60" x2="466.30" y2="267.60" stroke="#111" stroke-width="1.5"/>
<line x1="381.20" y1="267.60" x2="384.70" y2="267.60" stroke="#231f20" stroke-width="1.1"/>
<text x="378.50" y="270.65" font-size="8.5" text-anchor="end" textLength="4.3" lengthAdjust="spacingAndGlyphs" fill="#231f20" stroke="#231f20">0</text>
<line x1="381.20" y1="251.86" x2="384.70" y2="251.86" stroke="#231f20" stroke-width="1.1"/>
<text x="378.50" y="254.91" font-size="8.5" text-anchor="end" textLength="8.4" lengthAdjust="spacingAndGlyphs" fill="#231f20" stroke="#231f20">20</text>
<line x1="381.20" y1="236.12" x2="384.70" y2="236.12" stroke="#231f20" stroke-width="1.1"/>
<text x="378.50" y="239.17" font-size="8.5" text-anchor="end" textLength="8.4" lengthAdjust="spacingAndGlyphs" fill="#231f20" stroke="#231f20">40</text>
<line x1="381.20" y1="220.38" x2="384.70" y2="220.38" stroke="#231f20" stroke-width="1.1"/>
<text x="378.50" y="223.43" font-size="8.5" text-anchor="end" textLength="8.4" lengthAdjust="spacingAndGlyphs" fill="#231f20" stroke="#231f20">60</text>
<line x1="381.20" y1="204.64" x2="384.70" y2="204.64" stroke="#231f20" stroke-width="1.1"/>
<text x="378.50" y="207.69" font-size="8.5" text-anchor="end" textLength="8.4" lengthAdjust="spacingAndGlyphs" fill="#231f20" stroke="#231f20">80</text>
<line x1="381.20" y1="188.90" x2="384.70" y2="188.90" stroke="#231f20" stroke-width="1.1"/>
<text x="378.50" y="191.95" font-size="8.5" text-anchor="end" textLength="12.6" lengthAdjust="spacingAndGlyphs" fill="#231f20" stroke="#231f20">100</text>
<line x1="384.40" y1="267.60" x2="384.40" y2="270.60" stroke="#231f20" stroke-width="1.1"/>
<text x="384.40" y="281.50" font-size="8.8" text-anchor="middle" textLength="4.4" lengthAdjust="spacingAndGlyphs" fill="#231f20" stroke="#231f20">0</text>
<line x1="404.40" y1="267.60" x2="404.40" y2="270.60" stroke="#231f20" stroke-width="1.1"/>
<text x="404.40" y="281.50" font-size="8.8" text-anchor="middle" textLength="4.4" lengthAdjust="spacingAndGlyphs" fill="#231f20" stroke="#231f20">4</text>
<line x1="424.40" y1="267.60" x2="424.40" y2="270.60" stroke="#231f20" stroke-width="1.1"/>
<text x="424.40" y="281.50" font-size="8.8" text-anchor="middle" textLength="4.4" lengthAdjust="spacingAndGlyphs" fill="#231f20" stroke="#231f20">8</text>
<line x1="444.40" y1="267.60" x2="444.40" y2="270.60" stroke="#231f20" stroke-width="1.1"/>
<text x="444.40" y="281.50" font-size="8.8" text-anchor="middle" textLength="8.6" lengthAdjust="spacingAndGlyphs" fill="#231f20" stroke="#231f20">12</text>
<line x1="464.40" y1="267.60" x2="464.40" y2="270.60" stroke="#231f20" stroke-width="1.1"/>
<text x="464.40" y="281.50" font-size="8.8" text-anchor="middle" textLength="8.6" lengthAdjust="spacingAndGlyphs" fill="#231f20" stroke="#231f20">16</text>
<text x="425.60" y="294.30" font-size="8.8" text-anchor="middle" textLength="44.5" lengthAdjust="spacingAndGlyphs" fill="#231f20" stroke="#231f20">Time [weeks]</text>
<path d="M394.40,262.33 L404.40,239.27 L424.40,236.75 L444.40,243.75 L464.40,245.01" fill="none" stroke="#bb1d44" stroke-width="1.3"/>
<line x1="404.40" y1="237.67" x2="404.40" y2="240.87" stroke="#222" stroke-width="1.0"/>
<line x1="402.80" y1="237.67" x2="406.00" y2="237.67" stroke="#222" stroke-width="1.0"/>
<line x1="402.80" y1="240.87" x2="406.00" y2="240.87" stroke="#222" stroke-width="1.0"/>
<line x1="424.40" y1="233.15" x2="424.40" y2="240.35" stroke="#222" stroke-width="1.0"/>
<line x1="422.80" y1="233.15" x2="426.00" y2="233.15" stroke="#222" stroke-width="1.0"/>
<line x1="422.80" y1="240.35" x2="426.00" y2="240.35" stroke="#222" stroke-width="1.0"/>
<line x1="444.40" y1="240.75" x2="444.40" y2="246.75" stroke="#222" stroke-width="1.0"/>
<line x1="442.80" y1="240.75" x2="446.00" y2="240.75" stroke="#222" stroke-width="1.0"/>
<line x1="442.80" y1="246.75" x2="446.00" y2="246.75" stroke="#222" stroke-width="1.0"/>
<line x1="464.40" y1="241.21" x2="464.40" y2="248.81" stroke="#222" stroke-width="1.0"/>
<line x1="462.80" y1="241.21" x2="466.00" y2="241.21" stroke="#222" stroke-width="1.0"/>
<line x1="462.80" y1="248.81" x2="466.00" y2="248.81" stroke="#222" stroke-width="1.0"/>
<rect x="392.70" y="260.63" width="3.40" height="3.40" fill="#a5072f"/>
<rect x="402.70" y="237.57" width="3.40" height="3.40" fill="#a5072f"/>
<rect x="422.70" y="235.05" width="3.40" height="3.40" fill="#a5072f"/>
<rect x="442.70" y="242.05" width="3.40" height="3.40" fill="#a5072f"/>
<rect x="462.70" y="243.31" width="3.40" height="3.40" fill="#a5072f"/>
<path d="M394.40,260.83 L404.40,225.89 L424.40,223.53 L444.40,229.67 L464.40,238.87" fill="none" stroke="#3a5a9e" stroke-width="1.3"/>
<line x1="404.40" y1="223.79" x2="404.40" y2="227.99" stroke="#222" stroke-width="1.0"/>
<line x1="402.80" y1="223.79" x2="406.00" y2="223.79" stroke="#222" stroke-width="1.0"/>
<line x1="402.80" y1="227.99" x2="406.00" y2="227.99" stroke="#222" stroke-width="1.0"/>
<line x1="424.40" y1="221.03" x2="424.40" y2="226.03" stroke="#222" stroke-width="1.0"/>
<line x1="422.80" y1="221.03" x2="426.00" y2="221.03" stroke="#222" stroke-width="1.0"/>
<line x1="422.80" y1="226.03" x2="426.00" y2="226.03" stroke="#222" stroke-width="1.0"/>
<line x1="444.40" y1="226.47" x2="444.40" y2="232.87" stroke="#222" stroke-width="1.0"/>
<line x1="442.80" y1="226.47" x2="446.00" y2="226.47" stroke="#222" stroke-width="1.0"/>
<line x1="442.80" y1="232.87" x2="446.00" y2="232.87" stroke="#222" stroke-width="1.0"/>
<line x1="464.40" y1="235.37" x2="464.40" y2="242.37" stroke="#222" stroke-width="1.0"/>
<line x1="462.80" y1="235.37" x2="466.00" y2="235.37" stroke="#222" stroke-width="1.0"/>
<line x1="462.80" y1="242.37" x2="466.00" y2="242.37" stroke="#222" stroke-width="1.0"/>
<circle cx="394.40" cy="260.83" r="1.7" fill="#2c4a86"/>
<circle cx="404.40" cy="225.89" r="1.7" fill="#2c4a86"/>
<circle cx="424.40" cy="223.53" r="1.7" fill="#2c4a86"/>
<circle cx="444.40" cy="229.67" r="1.7" fill="#2c4a86"/>
<circle cx="464.40" cy="238.87" r="1.7" fill="#2c4a86"/>
<text x="470.10" y="234.30" font-size="7.4" textLength="31.7" lengthAdjust="spacingAndGlyphs" fill="#231f20" stroke="#231f20">2w p=0.25</text>
<text x="470.10" y="242.10" font-size="7.4" textLength="38.8" lengthAdjust="spacingAndGlyphs" fill="#231f20" stroke="#231f20">4w p=0.0005</text>
<text x="470.10" y="249.90" font-size="7.4" textLength="34.9" lengthAdjust="spacingAndGlyphs" fill="#231f20" stroke="#231f20">8w p=0.017</text>
<text x="470.10" y="257.70" font-size="7.4" textLength="38.5" lengthAdjust="spacingAndGlyphs" fill="#231f20" stroke="#231f20">12w p=0.008</text>
<text x="470.10" y="265.50" font-size="7.4" textLength="34.3" lengthAdjust="spacingAndGlyphs" fill="#231f20" stroke="#231f20">16w p=0.27</text>
<line x1="477.90" y1="190.60" x2="487.10" y2="190.60" stroke="#3a5a9e" stroke-width="1.1"/>
<circle cx="482.50" cy="190.60" r="1.4" fill="#2c4a86"/>
<line x1="477.90" y1="200.80" x2="487.10" y2="200.80" stroke="#bb1d44" stroke-width="1.1"/>
<rect x="480.90" y="199.20" width="3.20" height="3.20" fill="#a5072f"/>
<text x="490.60" y="193.00" font-size="7.2" textLength="12.2" lengthAdjust="spacingAndGlyphs" fill="#231f20" stroke="#231f20">Ctrl.</text>
<text x="490.60" y="203.20" font-size="7.2" textLength="15.2" lengthAdjust="spacingAndGlyphs" fill="#231f20" stroke="#231f20">Depl.</text>
<text x="71.20" y="324.90" font-size="10.3" textLength="54.2" lengthAdjust="spacingAndGlyphs" fill="#231f20" stroke="#231f20">Erythrocytes</text>
<line x1="56.90" y1="334.50" x2="56.90" y2="415.80" stroke="#111" stroke-width="1.5"/>
<line x1="56.20" y1="415.10" x2="139.70" y2="415.10" stroke="#111" stroke-width="1.5"/>
<line x1="53.40" y1="415.10" x2="56.90" y2="415.10" stroke="#231f20" stroke-width="1.1"/>
<text x="50.70" y="418.15" font-size="8.5" text-anchor="end" textLength="4.3" lengthAdjust="spacingAndGlyphs" fill="#231f20" stroke="#231f20">0</text>
<line x1="53.40" y1="399.42" x2="56.90" y2="399.42" stroke="#231f20" stroke-width="1.1"/>
<text x="50.70" y="402.47" font-size="8.5" text-anchor="end" textLength="8.4" lengthAdjust="spacingAndGlyphs" fill="#231f20" stroke="#231f20">20</text>
<line x1="53.40" y1="383.74" x2="56.90" y2="383.74" stroke="#231f20" stroke-width="1.1"/>
<text x="50.70" y="386.79" font-size="8.5" text-anchor="end" textLength="8.4" lengthAdjust="spacingAndGlyphs" fill="#231f20" stroke="#231f20">40</text>
<line x1="53.40" y1="368.06" x2="56.90" y2="368.06" stroke="#231f20" stroke-width="1.1"/>
<text x="50.70" y="371.11" font-size="8.5" text-anchor="end" textLength="8.4" lengthAdjust="spacingAndGlyphs" fill="#231f20" stroke="#231f20">60</text>
<line x1="53.40" y1="352.38" x2="56.90" y2="352.38" stroke="#231f20" stroke-width="1.1"/>
<text x="50.70" y="355.43" font-size="8.5" text-anchor="end" textLength="8.4" lengthAdjust="spacingAndGlyphs" fill="#231f20" stroke="#231f20">80</text>
<line x1="53.40" y1="336.70" x2="56.90" y2="336.70" stroke="#231f20" stroke-width="1.1"/>
<text x="50.70" y="339.75" font-size="8.5" text-anchor="end" textLength="12.6" lengthAdjust="spacingAndGlyphs" fill="#231f20" stroke="#231f20">100</text>
<line x1="56.60" y1="415.10" x2="56.60" y2="418.10" stroke="#231f20" stroke-width="1.1"/>
<text x="56.60" y="429.00" font-size="8.8" text-anchor="middle" textLength="4.4" lengthAdjust="spacingAndGlyphs" fill="#231f20" stroke="#231f20">0</text>
<line x1="76.60" y1="415.10" x2="76.60" y2="418.10" stroke="#231f20" stroke-width="1.1"/>
<text x="76.60" y="429.00" font-size="8.8" text-anchor="middle" textLength="4.4" lengthAdjust="spacingAndGlyphs" fill="#231f20" stroke="#231f20">4</text>
<line x1="96.60" y1="415.10" x2="96.60" y2="418.10" stroke="#231f20" stroke-width="1.1"/>
<text x="96.60" y="429.00" font-size="8.8" text-anchor="middle" textLength="4.4" lengthAdjust="spacingAndGlyphs" fill="#231f20" stroke="#231f20">8</text>
<line x1="116.60" y1="415.10" x2="116.60" y2="418.10" stroke="#231f20" stroke-width="1.1"/>
<text x="116.60" y="429.00" font-size="8.8" text-anchor="middle" textLength="8.6" lengthAdjust="spacingAndGlyphs" fill="#231f20" stroke="#231f20">12</text>
<line x1="136.60" y1="415.10" x2="136.60" y2="418.10" stroke="#231f20" stroke-width="1.1"/>
<text x="136.60" y="429.00" font-size="8.8" text-anchor="middle" textLength="8.6" lengthAdjust="spacingAndGlyphs" fill="#231f20" stroke="#231f20">16</text>
<text x="97.80" y="441.80" font-size="8.8" text-anchor="middle" textLength="44.5" lengthAdjust="spacingAndGlyphs" fill="#231f20" stroke="#231f20">Time [weeks]</text>
<text x="0.00" y="0.00" font-size="9.0" text-anchor="middle" textLength="51.0" lengthAdjust="spacingAndGlyphs" fill="#231f20" stroke="#231f20" transform="translate(31.3,374.5) rotate(-90)">Chimerism [%]</text>
<path d="M61.60,415.10 L66.60,405.69 L76.60,396.91 L96.60,387.42 L116.60,387.11 L136.60,387.11" fill="none" stroke="#bb1d44" stroke-width="1.3"/>
<line x1="116.60" y1="385.61" x2="116.60" y2="388.61" stroke="#222" stroke-width="1.0"/>
<line x1="115.00" y1="385.61" x2="118.20" y2="385.61" stroke="#222" stroke-width="1.0"/>
<line x1="115.00" y1="388.61" x2="118.20" y2="388.61" stroke="#222" stroke-width="1.0"/>
<line x1="136.60" y1="385.91" x2="136.60" y2="388.31" stroke="#222" stroke-width="1.0"/>
<line x1="135.00" y1="385.91" x2="138.20" y2="385.91" stroke="#222" stroke-width="1.0"/>
<line x1="135.00" y1="388.31" x2="138.20" y2="388.31" stroke="#222" stroke-width="1.0"/>
<rect x="59.90" y="413.40" width="3.40" height="3.40" fill="#a5072f"/>
<rect x="64.90" y="403.99" width="3.40" height="3.40" fill="#a5072f"/>
<rect x="74.90" y="395.21" width="3.40" height="3.40" fill="#a5072f"/>
<rect x="94.90" y="385.72" width="3.40" height="3.40" fill="#a5072f"/>
<rect x="114.90" y="385.41" width="3.40" height="3.40" fill="#a5072f"/>
<rect x="134.90" y="385.41" width="3.40" height="3.40" fill="#a5072f"/>
<path d="M61.60,415.10 L66.60,400.28 L76.60,375.66 L96.60,352.54 L116.60,346.11 L136.60,345.09" fill="none" stroke="#3a5a9e" stroke-width="1.3"/>
<line x1="136.60" y1="343.49" x2="136.60" y2="346.69" stroke="#222" stroke-width="1.0"/>
<line x1="135.00" y1="343.49" x2="138.20" y2="343.49" stroke="#222" stroke-width="1.0"/>
<line x1="135.00" y1="346.69" x2="138.20" y2="346.69" stroke="#222" stroke-width="1.0"/>
<circle cx="61.60" cy="415.10" r="1.7" fill="#2c4a86"/>
<circle cx="66.60" cy="400.28" r="1.7" fill="#2c4a86"/>
<circle cx="76.60" cy="375.66" r="1.7" fill="#2c4a86"/>
<circle cx="96.60" cy="352.54" r="1.7" fill="#2c4a86"/>
<circle cx="116.60" cy="346.11" r="1.7" fill="#2c4a86"/>
<circle cx="136.60" cy="345.09" r="1.7" fill="#2c4a86"/>
<text x="143.40" y="374.20" font-size="7.4" textLength="30.4" lengthAdjust="spacingAndGlyphs" fill="#231f20" stroke="#231f20">1w p=0.32</text>
<text x="143.40" y="382.00" font-size="7.4" textLength="38" lengthAdjust="spacingAndGlyphs" fill="#231f20" stroke="#231f20">2w p=0.0001</text>
<text x="143.40" y="389.80" font-size="7.4" textLength="38" lengthAdjust="spacingAndGlyphs" fill="#231f20" stroke="#231f20">4w p&lt;0.0001</text>
<text x="143.40" y="397.60" font-size="7.4" textLength="38" lengthAdjust="spacingAndGlyphs" fill="#231f20" stroke="#231f20">8w p&lt;0.0001</text>
<text x="143.40" y="405.40" font-size="7.4" textLength="41.2" lengthAdjust="spacingAndGlyphs" fill="#231f20" stroke="#231f20">12w p&lt;0.0001</text>
<text x="143.40" y="413.20" font-size="7.4" textLength="41.2" lengthAdjust="spacingAndGlyphs" fill="#231f20" stroke="#231f20">16w p&lt;0.0001</text>
<text x="244.00" y="324.90" font-size="10.3" textLength="37" lengthAdjust="spacingAndGlyphs" fill="#231f20" stroke="#231f20">Platelets</text>
<line x1="221.20" y1="334.50" x2="221.20" y2="415.80" stroke="#111" stroke-width="1.5"/>
<line x1="220.50" y1="415.10" x2="303.50" y2="415.10" stroke="#111" stroke-width="1.5"/>
<line x1="217.70" y1="415.10" x2="221.20" y2="415.10" stroke="#231f20" stroke-width="1.1"/>
<text x="215.00" y="418.15" font-size="8.5" text-anchor="end" textLength="4.3" lengthAdjust="spacingAndGlyphs" fill="#231f20" stroke="#231f20">0</text>
<line x1="217.70" y1="399.42" x2="221.20" y2="399.42" stroke="#231f20" stroke-width="1.1"/>
<text x="215.00" y="402.47" font-size="8.5" text-anchor="end" textLength="8.4" lengthAdjust="spacingAndGlyphs" fill="#231f20" stroke="#231f20">20</text>
<line x1="217.70" y1="383.74" x2="221.20" y2="383.74" stroke="#231f20" stroke-width="1.1"/>
<text x="215.00" y="386.79" font-size="8.5" text-anchor="end" textLength="8.4" lengthAdjust="spacingAndGlyphs" fill="#231f20" stroke="#231f20">40</text>
<line x1="217.70" y1="368.06" x2="221.20" y2="368.06" stroke="#231f20" stroke-width="1.1"/>
<text x="215.00" y="371.11" font-size="8.5" text-anchor="end" textLength="8.4" lengthAdjust="spacingAndGlyphs" fill="#231f20" stroke="#231f20">60</text>
<line x1="217.70" y1="352.38" x2="221.20" y2="352.38" stroke="#231f20" stroke-width="1.1"/>
<text x="215.00" y="355.43" font-size="8.5" text-anchor="end" textLength="8.4" lengthAdjust="spacingAndGlyphs" fill="#231f20" stroke="#231f20">80</text>
<line x1="217.70" y1="336.70" x2="221.20" y2="336.70" stroke="#231f20" stroke-width="1.1"/>
<text x="215.00" y="339.75" font-size="8.5" text-anchor="end" textLength="12.6" lengthAdjust="spacingAndGlyphs" fill="#231f20" stroke="#231f20">100</text>
<line x1="220.90" y1="415.10" x2="220.90" y2="418.10" stroke="#231f20" stroke-width="1.1"/>
<text x="220.90" y="429.00" font-size="8.8" text-anchor="middle" textLength="4.4" lengthAdjust="spacingAndGlyphs" fill="#231f20" stroke="#231f20">0</text>
<line x1="240.90" y1="415.10" x2="240.90" y2="418.10" stroke="#231f20" stroke-width="1.1"/>
<text x="240.90" y="429.00" font-size="8.8" text-anchor="middle" textLength="4.4" lengthAdjust="spacingAndGlyphs" fill="#231f20" stroke="#231f20">4</text>
<line x1="260.90" y1="415.10" x2="260.90" y2="418.10" stroke="#231f20" stroke-width="1.1"/>
<text x="260.90" y="429.00" font-size="8.8" text-anchor="middle" textLength="4.4" lengthAdjust="spacingAndGlyphs" fill="#231f20" stroke="#231f20">8</text>
<line x1="280.90" y1="415.10" x2="280.90" y2="418.10" stroke="#231f20" stroke-width="1.1"/>
<text x="280.90" y="429.00" font-size="8.8" text-anchor="middle" textLength="8.6" lengthAdjust="spacingAndGlyphs" fill="#231f20" stroke="#231f20">12</text>
<line x1="300.90" y1="415.10" x2="300.90" y2="418.10" stroke="#231f20" stroke-width="1.1"/>
<text x="300.90" y="429.00" font-size="8.8" text-anchor="middle" textLength="8.6" lengthAdjust="spacingAndGlyphs" fill="#231f20" stroke="#231f20">16</text>
<text x="262.10" y="441.80" font-size="8.8" text-anchor="middle" textLength="44.5" lengthAdjust="spacingAndGlyphs" fill="#231f20" stroke="#231f20">Time [weeks]</text>
<path d="M225.90,406.16 L230.90,378.10 L240.90,374.49 L260.90,376.37 L280.90,377.78 L300.90,375.51" fill="none" stroke="#bb1d44" stroke-width="1.3"/>
<line x1="260.90" y1="373.37" x2="260.90" y2="379.37" stroke="#222" stroke-width="1.0"/>
<line x1="259.30" y1="373.37" x2="262.50" y2="373.37" stroke="#222" stroke-width="1.0"/>
<line x1="259.30" y1="379.37" x2="262.50" y2="379.37" stroke="#222" stroke-width="1.0"/>
<line x1="280.90" y1="374.78" x2="280.90" y2="380.78" stroke="#222" stroke-width="1.0"/>
<line x1="279.30" y1="374.78" x2="282.50" y2="374.78" stroke="#222" stroke-width="1.0"/>
<line x1="279.30" y1="380.78" x2="282.50" y2="380.78" stroke="#222" stroke-width="1.0"/>
<line x1="300.90" y1="372.01" x2="300.90" y2="379.01" stroke="#222" stroke-width="1.0"/>
<line x1="299.30" y1="372.01" x2="302.50" y2="372.01" stroke="#222" stroke-width="1.0"/>
<line x1="299.30" y1="379.01" x2="302.50" y2="379.01" stroke="#222" stroke-width="1.0"/>
<rect x="224.20" y="404.46" width="3.40" height="3.40" fill="#a5072f"/>
<rect x="229.20" y="376.40" width="3.40" height="3.40" fill="#a5072f"/>
<rect x="239.20" y="372.79" width="3.40" height="3.40" fill="#a5072f"/>
<rect x="259.20" y="374.67" width="3.40" height="3.40" fill="#a5072f"/>
<rect x="279.20" y="376.08" width="3.40" height="3.40" fill="#a5072f"/>
<rect x="299.20" y="373.81" width="3.40" height="3.40" fill="#a5072f"/>
<path d="M225.90,404.12 L230.90,351.99 L240.90,347.28 L260.90,344.23 L280.90,344.70 L300.90,346.97" fill="none" stroke="#3a5a9e" stroke-width="1.3"/>
<line x1="280.90" y1="343.20" x2="280.90" y2="346.20" stroke="#222" stroke-width="1.0"/>
<line x1="279.30" y1="343.20" x2="282.50" y2="343.20" stroke="#222" stroke-width="1.0"/>
<line x1="279.30" y1="346.20" x2="282.50" y2="346.20" stroke="#222" stroke-width="1.0"/>
<line x1="300.90" y1="343.97" x2="300.90" y2="349.97" stroke="#222" stroke-width="1.0"/>
<line x1="299.30" y1="343.97" x2="302.50" y2="343.97" stroke="#222" stroke-width="1.0"/>
<line x1="299.30" y1="349.97" x2="302.50" y2="349.97" stroke="#222" stroke-width="1.0"/>
<circle cx="225.90" cy="404.12" r="1.7" fill="#2c4a86"/>
<circle cx="230.90" cy="351.99" r="1.7" fill="#2c4a86"/>
<circle cx="240.90" cy="347.28" r="1.7" fill="#2c4a86"/>
<circle cx="260.90" cy="344.23" r="1.7" fill="#2c4a86"/>
<circle cx="280.90" cy="344.70" r="1.7" fill="#2c4a86"/>
<circle cx="300.90" cy="346.97" r="1.7" fill="#2c4a86"/>
<text x="307.40" y="374.20" font-size="7.4" textLength="30.4" lengthAdjust="spacingAndGlyphs" fill="#231f20" stroke="#231f20">1w p=0.19</text>
<text x="307.40" y="382.00" font-size="7.4" textLength="38" lengthAdjust="spacingAndGlyphs" fill="#231f20" stroke="#231f20">2w p&lt;0.0001</text>
<text x="307.40" y="389.80" font-size="7.4" textLength="38" lengthAdjust="spacingAndGlyphs" fill="#231f20" stroke="#231f20">4w p&lt;0.0001</text>
<text x="307.40" y="397.60" font-size="7.4" textLength="38" lengthAdjust="spacingAndGlyphs" fill="#231f20" stroke="#231f20">8w p&lt;0.0001</text>
<text x="307.40" y="405.40" font-size="7.4" textLength="41.2" lengthAdjust="spacingAndGlyphs" fill="#231f20" stroke="#231f20">12w p&lt;0.0001</text>
<text x="307.40" y="413.20" font-size="7.4" textLength="41.2" lengthAdjust="spacingAndGlyphs" fill="#231f20" stroke="#231f20">16w p&lt;0.0001</text>
<text x="414.80" y="324.90" font-size="10.3" textLength="22" lengthAdjust="spacingAndGlyphs" fill="#231f20" stroke="#231f20">PMN</text>
<line x1="384.70" y1="334.50" x2="384.70" y2="415.80" stroke="#111" stroke-width="1.5"/>
<line x1="384.00" y1="415.10" x2="466.30" y2="415.10" stroke="#111" stroke-width="1.5"/>
<line x1="381.20" y1="415.10" x2="384.70" y2="415.10" stroke="#231f20" stroke-width="1.1"/>
<text x="378.50" y="418.15" font-size="8.5" text-anchor="end" textLength="4.3" lengthAdjust="spacingAndGlyphs" fill="#231f20" stroke="#231f20">0</text>
<line x1="381.20" y1="399.42" x2="384.70" y2="399.42" stroke="#231f20" stroke-width="1.1"/>
<text x="378.50" y="402.47" font-size="8.5" text-anchor="end" textLength="8.4" lengthAdjust="spacingAndGlyphs" fill="#231f20" stroke="#231f20">20</text>
<line x1="381.20" y1="383.74" x2="384.70" y2="383.74" stroke="#231f20" stroke-width="1.1"/>
<text x="378.50" y="386.79" font-size="8.5" text-anchor="end" textLength="8.4" lengthAdjust="spacingAndGlyphs" fill="#231f20" stroke="#231f20">40</text>
<line x1="381.20" y1="368.06" x2="384.70" y2="368.06" stroke="#231f20" stroke-width="1.1"/>
<text x="378.50" y="371.11" font-size="8.5" text-anchor="end" textLength="8.4" lengthAdjust="spacingAndGlyphs" fill="#231f20" stroke="#231f20">60</text>
<line x1="381.20" y1="352.38" x2="384.70" y2="352.38" stroke="#231f20" stroke-width="1.1"/>
<text x="378.50" y="355.43" font-size="8.5" text-anchor="end" textLength="8.4" lengthAdjust="spacingAndGlyphs" fill="#231f20" stroke="#231f20">80</text>
<line x1="381.20" y1="336.70" x2="384.70" y2="336.70" stroke="#231f20" stroke-width="1.1"/>
<text x="378.50" y="339.75" font-size="8.5" text-anchor="end" textLength="12.6" lengthAdjust="spacingAndGlyphs" fill="#231f20" stroke="#231f20">100</text>
<line x1="384.40" y1="415.10" x2="384.40" y2="418.10" stroke="#231f20" stroke-width="1.1"/>
<text x="384.40" y="429.00" font-size="8.8" text-anchor="middle" textLength="4.4" lengthAdjust="spacingAndGlyphs" fill="#231f20" stroke="#231f20">0</text>
<line x1="404.40" y1="415.10" x2="404.40" y2="418.10" stroke="#231f20" stroke-width="1.1"/>
<text x="404.40" y="429.00" font-size="8.8" text-anchor="middle" textLength="4.4" lengthAdjust="spacingAndGlyphs" fill="#231f20" stroke="#231f20">4</text>
<line x1="424.40" y1="415.10" x2="424.40" y2="418.10" stroke="#231f20" stroke-width="1.1"/>
<text x="424.40" y="429.00" font-size="8.8" text-anchor="middle" textLength="4.4" lengthAdjust="spacingAndGlyphs" fill="#231f20" stroke="#231f20">8</text>
<line x1="444.40" y1="415.10" x2="444.40" y2="418.10" stroke="#231f20" stroke-width="1.1"/>
<text x="444.40" y="429.00" font-size="8.8" text-anchor="middle" textLength="8.6" lengthAdjust="spacingAndGlyphs" fill="#231f20" stroke="#231f20">12</text>
<line x1="464.40" y1="415.10" x2="464.40" y2="418.10" stroke="#231f20" stroke-width="1.1"/>
<text x="464.40" y="429.00" font-size="8.8" text-anchor="middle" textLength="8.6" lengthAdjust="spacingAndGlyphs" fill="#231f20" stroke="#231f20">16</text>
<text x="425.60" y="441.80" font-size="8.8" text-anchor="middle" textLength="44.5" lengthAdjust="spacingAndGlyphs" fill="#231f20" stroke="#231f20">Time [weeks]</text>
<path d="M389.40,392.68 L394.40,378.80 L404.40,379.66 L424.40,381.94 L444.40,383.98" fill="none" stroke="#bb1d44" stroke-width="1.3"/>
<line x1="394.40" y1="375.80" x2="394.40" y2="381.80" stroke="#222" stroke-width="1.0"/>
<line x1="392.80" y1="375.80" x2="396.00" y2="375.80" stroke="#222" stroke-width="1.0"/>
<line x1="392.80" y1="381.80" x2="396.00" y2="381.80" stroke="#222" stroke-width="1.0"/>
<line x1="404.40" y1="376.66" x2="404.40" y2="382.66" stroke="#222" stroke-width="1.0"/>
<line x1="402.80" y1="376.66" x2="406.00" y2="376.66" stroke="#222" stroke-width="1.0"/>
<line x1="402.80" y1="382.66" x2="406.00" y2="382.66" stroke="#222" stroke-width="1.0"/>
<line x1="424.40" y1="379.44" x2="424.40" y2="384.44" stroke="#222" stroke-width="1.0"/>
<line x1="422.80" y1="379.44" x2="426.00" y2="379.44" stroke="#222" stroke-width="1.0"/>
<line x1="422.80" y1="384.44" x2="426.00" y2="384.44" stroke="#222" stroke-width="1.0"/>
<rect x="387.70" y="390.98" width="3.40" height="3.40" fill="#a5072f"/>
<rect x="392.70" y="377.10" width="3.40" height="3.40" fill="#a5072f"/>
<rect x="402.70" y="377.96" width="3.40" height="3.40" fill="#a5072f"/>
<rect x="422.70" y="380.24" width="3.40" height="3.40" fill="#a5072f"/>
<rect x="442.70" y="382.28" width="3.40" height="3.40" fill="#a5072f"/>
<path d="M389.40,372.37 L394.40,357.16 L404.40,349.87 L424.40,347.28 L444.40,350.81" fill="none" stroke="#3a5a9e" stroke-width="1.3"/>
<line x1="389.40" y1="370.37" x2="389.40" y2="374.37" stroke="#222" stroke-width="1.0"/>
<line x1="387.80" y1="370.37" x2="391.00" y2="370.37" stroke="#222" stroke-width="1.0"/>
<line x1="387.80" y1="374.37" x2="391.00" y2="374.37" stroke="#222" stroke-width="1.0"/>
<line x1="404.40" y1="347.37" x2="404.40" y2="352.37" stroke="#222" stroke-width="1.0"/>
<line x1="402.80" y1="347.37" x2="406.00" y2="347.37" stroke="#222" stroke-width="1.0"/>
<line x1="402.80" y1="352.37" x2="406.00" y2="352.37" stroke="#222" stroke-width="1.0"/>
<line x1="424.40" y1="344.78" x2="424.40" y2="349.78" stroke="#222" stroke-width="1.0"/>
<line x1="422.80" y1="344.78" x2="426.00" y2="344.78" stroke="#222" stroke-width="1.0"/>
<line x1="422.80" y1="349.78" x2="426.00" y2="349.78" stroke="#222" stroke-width="1.0"/>
<line x1="444.40" y1="348.31" x2="444.40" y2="353.31" stroke="#222" stroke-width="1.0"/>
<line x1="442.80" y1="348.31" x2="446.00" y2="348.31" stroke="#222" stroke-width="1.0"/>
<line x1="442.80" y1="353.31" x2="446.00" y2="353.31" stroke="#222" stroke-width="1.0"/>
<circle cx="389.40" cy="372.37" r="1.7" fill="#2c4a86"/>
<circle cx="394.40" cy="357.16" r="1.7" fill="#2c4a86"/>
<circle cx="404.40" cy="349.87" r="1.7" fill="#2c4a86"/>
<circle cx="424.40" cy="347.28" r="1.7" fill="#2c4a86"/>
<circle cx="444.40" cy="350.81" r="1.7" fill="#2c4a86"/>
<text x="470.40" y="381.70" font-size="7.4" textLength="37.5" lengthAdjust="spacingAndGlyphs" fill="#231f20" stroke="#231f20">2w p&lt;0.0001</text>
<text x="470.40" y="389.50" font-size="7.4" textLength="37.5" lengthAdjust="spacingAndGlyphs" fill="#231f20" stroke="#231f20">4w p&lt;0.0001</text>
<text x="470.40" y="397.30" font-size="7.4" textLength="37.5" lengthAdjust="spacingAndGlyphs" fill="#231f20" stroke="#231f20">8w p&lt;0.0001</text>
<text x="470.40" y="405.10" font-size="7.4" textLength="41.3" lengthAdjust="spacingAndGlyphs" fill="#231f20" stroke="#231f20">12w p&lt;0.0001</text>
<text x="470.40" y="412.90" font-size="7.4" textLength="41.3" lengthAdjust="spacingAndGlyphs" fill="#231f20" stroke="#231f20">16w p&lt;0.0001</text>
<line x1="466.80" y1="338.20" x2="476.00" y2="338.20" stroke="#3a5a9e" stroke-width="1.1"/>
<circle cx="471.40" cy="338.20" r="1.4" fill="#2c4a86"/>
<line x1="466.80" y1="348.40" x2="476.00" y2="348.40" stroke="#bb1d44" stroke-width="1.1"/>
<rect x="469.80" y="346.80" width="3.20" height="3.20" fill="#a5072f"/>
<text x="479.50" y="340.60" font-size="7.2" textLength="12.2" lengthAdjust="spacingAndGlyphs" fill="#231f20" stroke="#231f20">Ctrl.</text>
<text x="479.50" y="350.80" font-size="7.2" textLength="15.2" lengthAdjust="spacingAndGlyphs" fill="#231f20" stroke="#231f20">Depl.</text>
<defs>
<linearGradient id="gc" x1="0" x2="1" y1="0" y2="0"><stop offset="0" stop-color="#d2d3d5"/><stop offset="0.45" stop-color="#bcbec0"/><stop offset="1" stop-color="#7d7f82"/></linearGradient>
<linearGradient id="gn" x1="0" x2="1" y1="0" y2="0"><stop offset="0" stop-color="#c4c5c7"/><stop offset="1" stop-color="#77797c"/></linearGradient>
<radialGradient id="gh" cx="0.5" cy="0.45" r="0.6"><stop offset="0" stop-color="#f5f5f5"/><stop offset="1" stop-color="#d0d1d3"/></radialGradient>
<marker id="ah" viewBox="0 0 10 10" refX="9" refY="5" markerWidth="5" markerHeight="5" orient="auto-start-reverse" markerUnits="userSpaceOnUse"><path d="M0,0 L10,5 L0,10 L3,5 Z" fill="#111"/></marker>
<marker id="ahb" viewBox="0 0 10 10" refX="9" refY="5" markerWidth="8" markerHeight="7" orient="auto" markerUnits="userSpaceOnUse"><path d="M0,0 L10,5 L0,10 L3.5,5 Z" fill="#111"/></marker>
<marker id="ahg" viewBox="0 0 10 10" refX="9" refY="5" markerWidth="5" markerHeight="5" orient="auto" markerUnits="userSpaceOnUse"><path d="M0.5,0.5 L9.5,5 L0.5,9.5" fill="none" stroke="#8a8c8e" stroke-width="2.2"/></marker>
<marker id="ahr" viewBox="0 0 10 10" refX="9" refY="5" markerWidth="4.6" markerHeight="4.6" orient="auto-start-reverse" markerUnits="userSpaceOnUse"><path d="M0,0 L10,5 L0,10 L3,5 Z" fill="#a50a32"/></marker>
</defs>
<rect x="40.3" y="465" width="122.2" height="196.6" fill="none" stroke="#3e3e40" stroke-width="1.5"/>
<path d="M55.5,471.2 C60,470.2 70,470.0 80,470.4 C82,470.6 83.2,471.2 82.6,473.5 C82.2,475.5 83.2,478 82.6,480.4 C81.8,481.8 79,481.2 76,481.0 C68,481.5 60,481.6 55.5,480.8 C52.8,480 52.8,472 55.5,471.2 Z" fill="url(#gc)" stroke="#3a3a3c" stroke-width="0.9"/>
<path d="M85,471.0 C92,470.4 100,470.6 108.5,470.8 C110.6,471.2 111,473 110.4,475.2 C110.8,477.5 111,479.6 108.6,480.2 C100,480.6 92,480.5 85,480.2 C82.8,479.6 83.2,477.6 83.4,475.4 C83,473.2 82.8,471.6 85,471.0 Z" fill="url(#gc)" stroke="#3a3a3c" stroke-width="0.9"/>
<path d="M112.8,471.0 C120,470.6 128,470.5 135,470.9 C137.6,471.4 137.8,479.2 135,479.8 C128,480.4 120,480.2 112.8,480.0 C110.9,479.2 111.3,477.2 111.1,475.4 C110.9,473.4 111,471.5 112.8,471.0 Z" fill="url(#gc)" stroke="#3a3a3c" stroke-width="0.9"/>
<ellipse cx="70.6" cy="475.2" rx="2.9" ry="2.1" fill="#1f1f20"/>
<ellipse cx="70.8" cy="475.4" rx="1.3" ry="0.8" fill="#4a4a4c"/>
<ellipse cx="97.7" cy="474.6" rx="2.9" ry="2.1" fill="#1f1f20"/>
<ellipse cx="97.9" cy="474.8" rx="1.3" ry="0.8" fill="#4a4a4c"/>
<ellipse cx="122.7" cy="474.6" rx="2.9" ry="2.1" fill="#1f1f20"/>
<ellipse cx="122.9" cy="474.8" rx="1.3" ry="0.8" fill="#4a4a4c"/>
<text x="142.40" y="478.20" font-size="8.4" textLength="11" lengthAdjust="spacingAndGlyphs" fill="#231f20" stroke="#231f20">EC</text>
<path d="M60.4,484.1 C58.9,491 58.9,498 59.9,505.3" fill="none" stroke="#8a8c8e" stroke-width="1.4" marker-end="url(#ahg)"/>
<path d="M119.6,484.9 L119.6,522.2" fill="none" stroke="#8a8c8e" stroke-width="1.4" marker-end="url(#ahg)"/>
<text x="42.90" y="516.80" font-size="8.3" textLength="30.6" lengthAdjust="spacingAndGlyphs" fill="#ad1f45" stroke="#ad1f45">VEGF–A</text>
<path d="M74.6,516.8 L77.35,511.6 L80.1,516.8 Z" fill="#a50a32"/>
<text x="101.90" y="532.70" font-size="8.3" textLength="36.3" lengthAdjust="spacingAndGlyphs" fill="#ad1f45" stroke="#ad1f45">PDGF–BB</text>
<path d="M138.6,532.7 L141.3,527.2 L144.0,532.7 Z" fill="#a50a32"/>
<path d="M81.7,515.1 C96,514.5 113,510 114.4,485.5" fill="none" stroke="#1a1a1a" stroke-width="1.3" marker-end="url(#ah)"/>
<path d="M119.5,536.4 L119.5,553.8" fill="none" stroke="#1a1a1a" stroke-width="1.2" marker-end="url(#ahb)"/>
<path d="M53.9,523.5 C53.5,545 57,570 70.6,604.5" fill="none" stroke="#1a1a1a" stroke-width="1.3" marker-end="url(#ah)"/>
<path d="M69.8,523.5 C72,536 80,550 94.6,562.6" fill="none" stroke="#1a1a1a" stroke-width="1.3" stroke-dasharray="2.2,1.6" marker-end="url(#ah)"/>
<path d="M91.3,573.3 C93,566 104,560 112.7,558.7 C119,558.5 126,561 130.6,564.1 C134,568 138.5,575 139.2,580.3 C139.4,585 136,588 135.8,591.2 C135.2,594 134.5,597 133.5,598.2 C129,602 124,604 119.6,604.5 C115,605.3 111,605.3 108,605.1 C103,604.5 98.5,602.8 95.4,600.5 C93,597 92,594 91.9,590 C91.3,586 90.6,582 91,578.5 Z" fill="#f1f1f2" stroke="#808285" stroke-width="0.9"/>
<path d="M101.5,579.5 C102.5,576.8 106,576.4 109,577.6 C111,578.6 113,579.2 115,578.8 C118,577.6 121,576.2 125,576.6 C129.5,577.4 130.4,581 130.2,584.5 C130,588.5 128,591 124.5,591.2 C121,591.3 118,589.5 115.5,588.2 C113.5,587.4 111.5,587.6 109.5,588.8 C106.5,590.6 102.8,590.8 101.2,588.2 C100.2,585.8 100.5,582 101.5,579.5 Z" fill="url(#gn)" stroke="#6d6e71" stroke-width="0.7"/>
<text x="106.90" y="569.90" font-size="8.3" textLength="14.8" lengthAdjust="spacingAndGlyphs" fill="#231f20" stroke="#231f20">SCF</text>
<text x="143.50" y="583.60" font-size="8.3" textLength="11.5" lengthAdjust="spacingAndGlyphs" fill="#231f20" stroke="#231f20">Mk</text>
<path d="M114.1,572.2 C111,580 109.5,588 109.4,599.6" fill="none" stroke="#a50a32" stroke-width="1.1" marker-end="url(#ahr)"/>
<text x="113.80" y="602.40" font-size="8.3" textLength="25.4" lengthAdjust="spacingAndGlyphs" fill="#ad1f45" stroke="#ad1f45">m–SCF</text>
<line x1="97.40" y1="600.30" x2="97.40" y2="606.90" stroke="#ad1f45" stroke-width="0.9"/>
<line x1="99.80" y1="600.30" x2="99.80" y2="606.90" stroke="#ad1f45" stroke-width="0.9"/>
<line x1="108.50" y1="603.30" x2="108.50" y2="609.40" stroke="#ad1f45" stroke-width="0.9"/>
<line x1="110.40" y1="603.30" x2="110.40" y2="609.40" stroke="#ad1f45" stroke-width="0.9"/>
<path d="M85.4,621.0 L102.3,610.6" fill="none" stroke="#a50a32" stroke-width="1.1" marker-end="url(#ahr)" marker-start="url(#ahr)"/>
<text x="94.10" y="623.50" font-size="8.3" textLength="31.1" lengthAdjust="spacingAndGlyphs" fill="#ad1f45" stroke="#ad1f45">Distance</text>
<path d="M127.5,617.9 L132.8,617.9 L130.15,625.0 Z" fill="#a50a32"/>
<ellipse cx="72.6" cy="618.2" rx="8.1" ry="9.4" fill="url(#gh)" stroke="#58595b" stroke-width="0.8"/>
<ellipse cx="73.2" cy="618.8" rx="4.5" ry="5.4" fill="#bcbec0" stroke="#6d6e71" stroke-width="0.7"/>
<ellipse cx="65.0" cy="635.0" rx="8.6" ry="8.8" fill="url(#gh)" stroke="#58595b" stroke-width="0.8"/>
<ellipse cx="65.5" cy="634.9" rx="5.7" ry="6.5" fill="#bcbec0" stroke="#6d6e71" stroke-width="0.7"/>
<ellipse cx="82.5" cy="633.3" rx="8.6" ry="8.6" fill="url(#gh)" stroke="#58595b" stroke-width="0.8"/>
<ellipse cx="82.7" cy="634.5" rx="4.4" ry="4.3" fill="#bcbec0" stroke="#6d6e71" stroke-width="0.7"/>
<text x="86.60" y="647.70" font-size="8.3" textLength="40.1" lengthAdjust="spacingAndGlyphs" fill="#231f20" stroke="#231f20">HSC/MPP2</text>
<text x="81.70" y="657.50" font-size="8.3" textLength="44.5" lengthAdjust="spacingAndGlyphs" fill="#ad1f45" stroke="#ad1f45">Proliferation</text>
<path d="M126.7,657.5 L129.0,652.0 L131.3,657.5 Z" fill="#a50a32"/>
</svg></div>
</body></html>
